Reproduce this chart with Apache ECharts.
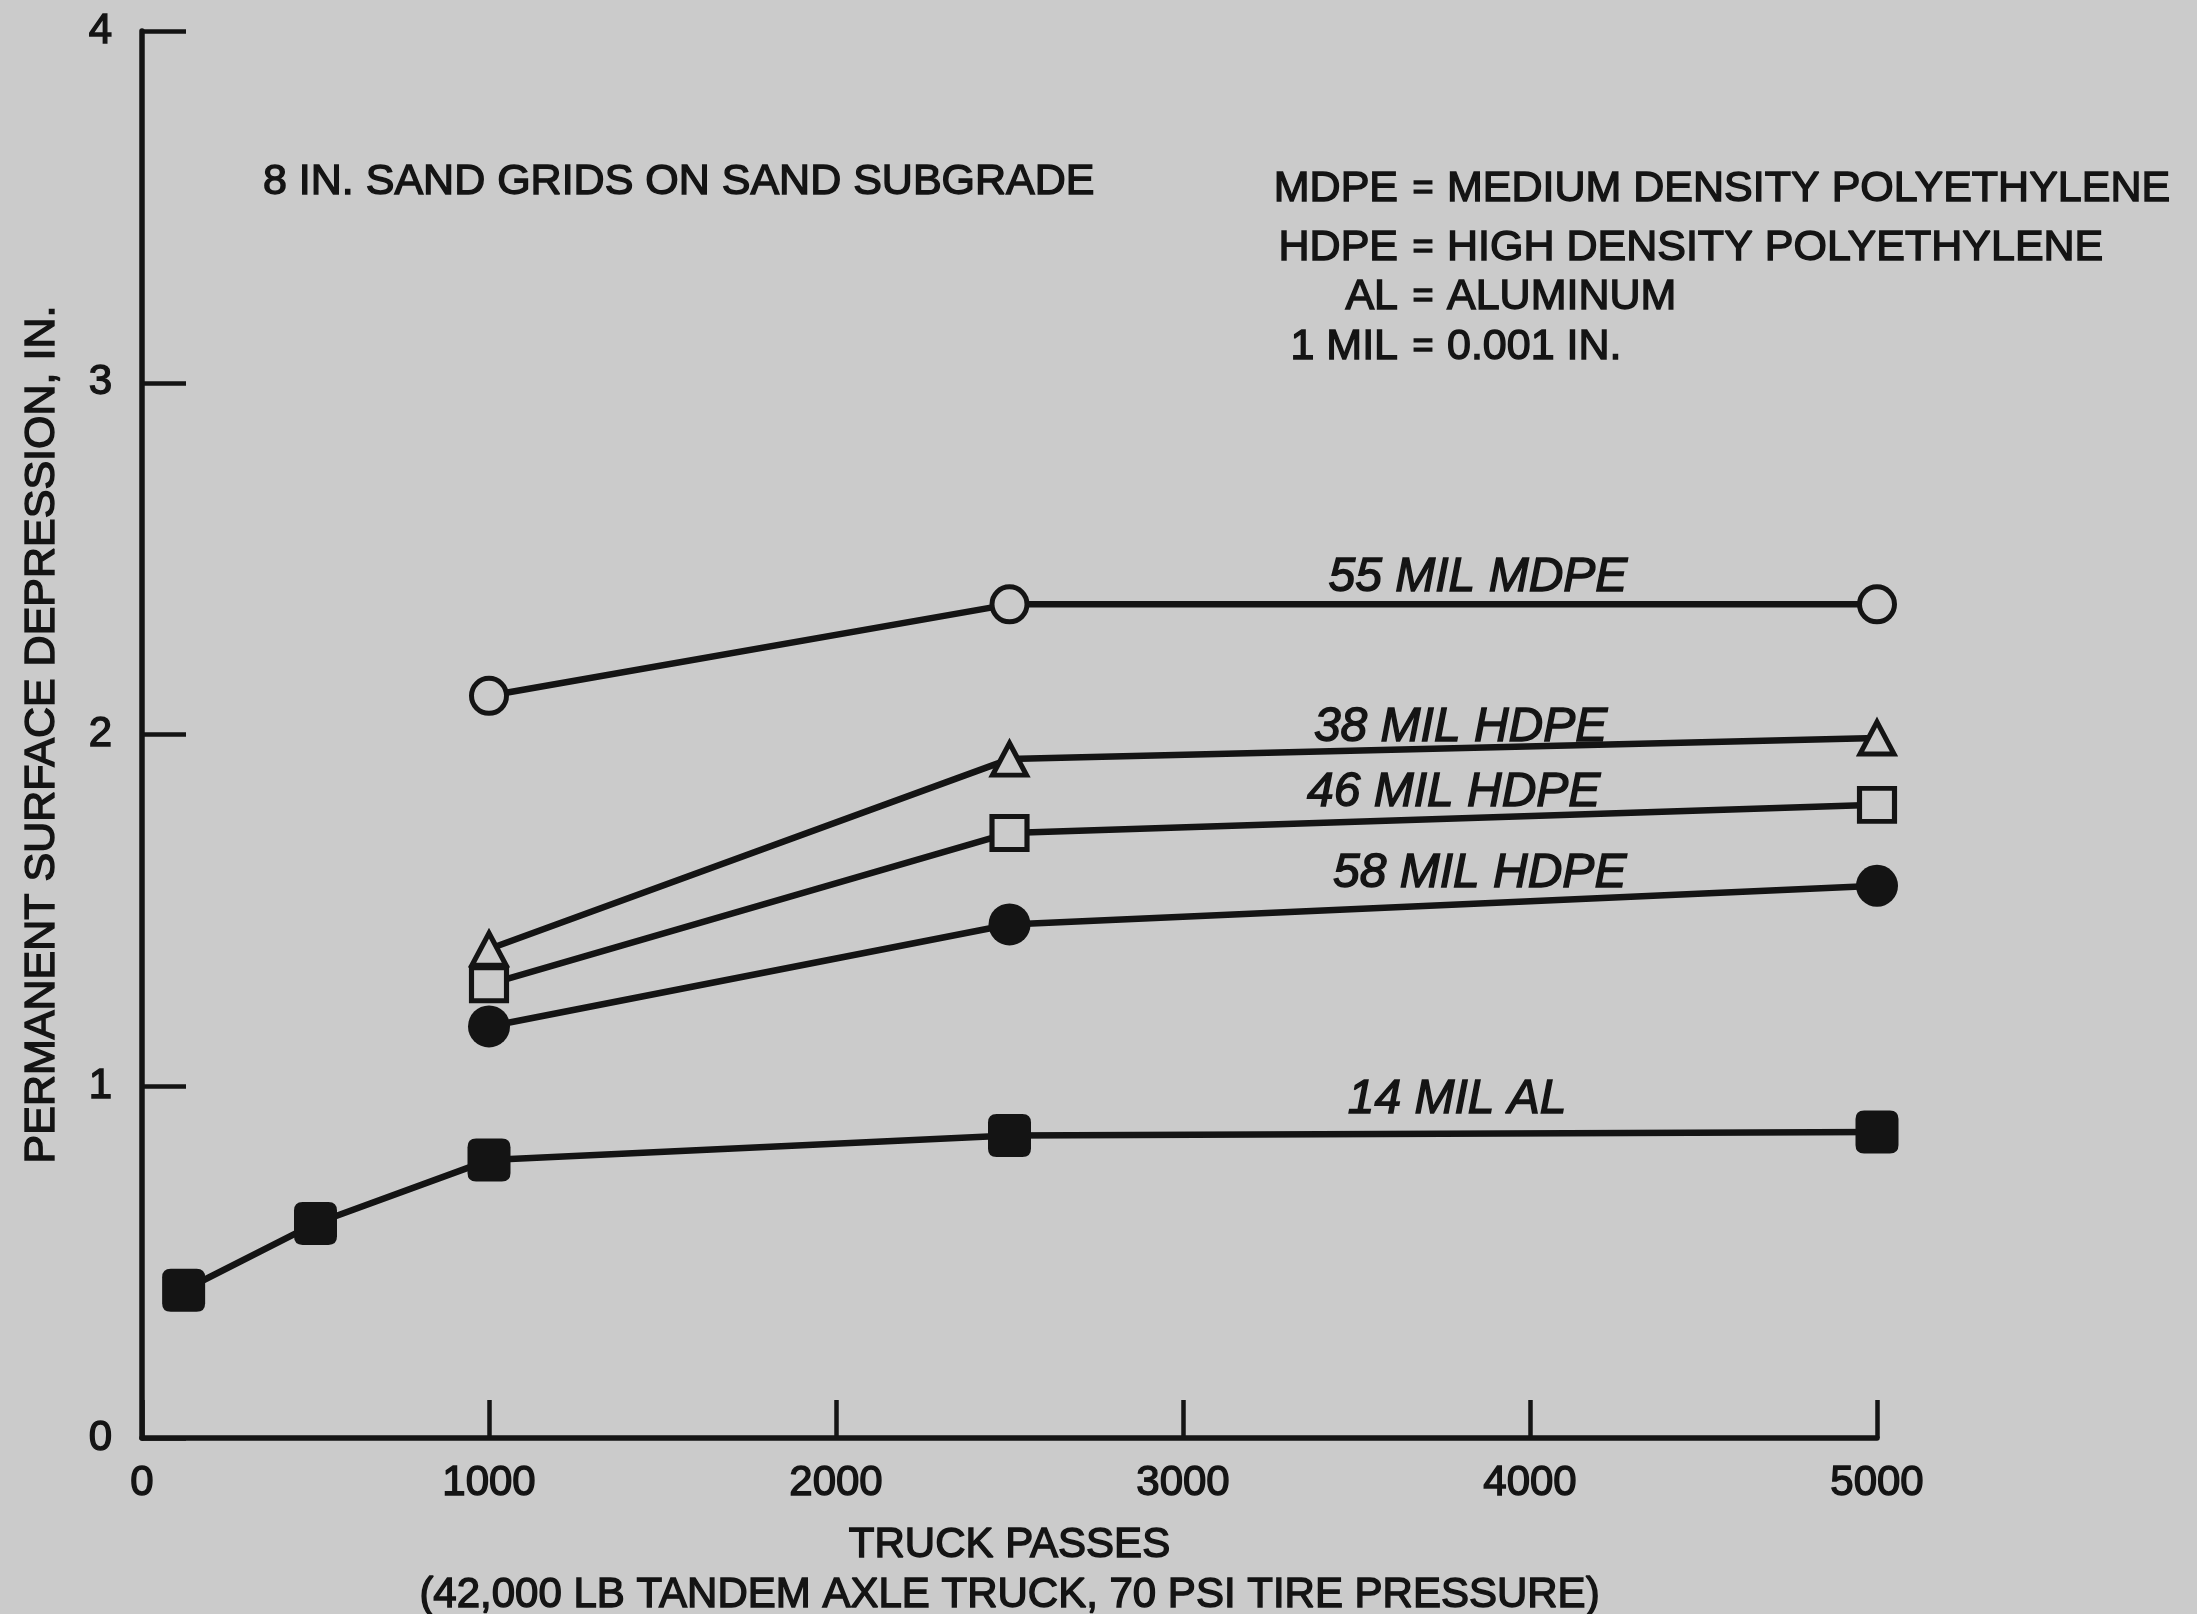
<!DOCTYPE html>
<html>
<head>
<meta charset="utf-8">
<title>Permanent surface depression vs truck passes</title>
<script src="https://cdn.jsdelivr.net/npm/echarts@6/dist/echarts.min.js"></script>
<style>
  html, body { margin: 0; padding: 0; background: #cbcbcb; }
  #chart { width: 2197px; height: 1614px; }
</style>
</head>
<body>
<div id="chart"></div>
<script>
// ---- data -------------------------------------------------------------
const seriesNames = ['55 MIL MDPE', '38 MIL HDPE', '46 MIL HDPE', '58 MIL HDPE', '14 MIL AL'];

// truck passes at which the polyethylene grids were measured
const polyPasses = [1000, 2500, 5000];
const mdpe55 = [2.11, 2.37, 2.37];
const hdpe38 = [1.39, 1.93, 1.99];
const hdpe46 = [1.29, 1.72, 1.80];
const hdpe58 = [1.17, 1.46, 1.57];

// aluminium grid was measured from the first passes
const alPasses = [120, 500, 1000, 2500, 5000];
const al14 = [0.42, 0.61, 0.79, 0.86, 0.87];

const xTickValues = [0, 1000, 2000, 3000, 4000, 5000];
const yTickValues = [0, 1, 2, 3, 4];

const subtitle = '8 IN. SAND GRIDS ON SAND SUBGRADE';
const abbrevTerms = ['MDPE', 'HDPE', 'AL', '1 MIL'];
const abbrevMeanings = ['MEDIUM DENSITY POLYETHYLENE', 'HIGH DENSITY POLYETHYLENE', 'ALUMINUM', '0.001 IN.'];
const xTitleLines = ['TRUCK PASSES', '(42,000 LB TANDEM AXLE TRUCK, 70 PSI TIRE PRESSURE)'];
const yTitle = 'PERMANENT SURFACE DEPRESSION, IN.';

// ---- styling ----------------------------------------------------------
const INK = '#141414';
const PAPER = '#cbcbcb';
const FONT = "'Liberation Sans', Arial, Helvetica, sans-serif";
// a thin outline in the ink colour gives the printed lettering its weight
const INK_EDGE = 1.4;
const inked = { textBorderColor: INK, textBorderWidth: INK_EDGE };

const pairs = (xs, ys) => xs.map((x, i) => [x, ys[i]]);

// y of a polyline at a given x, used to seat each curve's caption on its line
function yOnLine(xs, ys, x) {
  for (let i = 0; i < xs.length - 1; i++) {
    if (x >= xs[i] && x <= xs[i + 1]) {
      const t = (x - xs[i]) / (xs[i + 1] - xs[i]);
      return ys[i] + t * (ys[i + 1] - ys[i]);
    }
  }
  return ys[ys.length - 1];
}

function curve(name, xs, ys, marker, captionX, captionLift) {
  return {
    name: name,
    type: 'line',
    data: pairs(xs, ys),
    showSymbol: true,
    symbol: marker.symbol,
    symbolSize: marker.size,
    itemStyle: marker.style,
    lineStyle: { color: INK, width: 6.5 },
    emphasis: { disabled: true },
    markPoint: {
      symbol: 'circle',
      symbolSize: 0,
      silent: true,
      data: [{
        coord: [captionX, yOnLine(xs, ys, captionX)],
        label: Object.assign({
          show: true,
          position: 'inside',
          offset: [0, -captionLift],
          formatter: name,
          color: INK,
          fontFamily: FONT,
          fontStyle: 'italic',
          fontSize: 48
        }, inked)
      }]
    }
  };
}

const openStyle = { color: PAPER, borderColor: INK, borderWidth: 5 };
const solidStyle = { color: INK, borderWidth: 0 };
const softSquare = 'path://M2,0 H8 Q10,0 10,2 V8 Q10,10 8,10 H2 Q0,10 0,8 V2 Q0,0 2,0 Z';

const chart = echarts.init(document.getElementById('chart'), null, { renderer: 'canvas' });

function textEl(x, y, text, size, align) {
  return {
    type: 'text', x: x, y: y,
    style: {
      text: text, fill: INK, fontSize: size, fontFamily: FONT,
      align: align, verticalAlign: 'middle',
      stroke: INK, lineWidth: INK_EDGE
    }
  };
}

const graphics = [textEl(263, 182, subtitle, 43, 'left')];
const abbrevRowsY = [189, 248, 297, 347];
abbrevTerms.forEach((term, i) => {
  graphics.push(textEl(1398, abbrevRowsY[i], term, 43, 'right'));
  graphics.push(textEl(1423, abbrevRowsY[i], '=', 36, 'center'));
  graphics.push(textEl(1447, abbrevRowsY[i], abbrevMeanings[i], 43, 'left'));
});

const option = {
  animation: false,
  backgroundColor: PAPER,
  textStyle: { fontFamily: FONT, color: INK },
  grid: { left: 142, right: 320, top: 31, bottom: 176, containLabel: false, outerBoundsMode: 'none' },
  xAxis: {
    type: 'value',
    min: xTickValues[0],
    max: xTickValues[xTickValues.length - 1],
    interval: xTickValues[1] - xTickValues[0],
    axisLine: { show: true, onZero: true, lineStyle: { color: INK, width: 5.5 } },
    axisTick: { show: true, inside: true, length: 38, lineStyle: { color: INK, width: 4.5 } },
    splitLine: { show: false },
    axisLabel: Object.assign({
      show: true, margin: 24, color: INK, fontSize: 42, fontFamily: FONT,
      showMinLabel: true, showMaxLabel: true,
      formatter: v => String(v)
    }, inked),
    name: xTitleLines.join('\n'),
    nameLocation: 'middle',
    nameGap: 82,
    nameTextStyle: Object.assign({ color: INK, fontSize: 42, fontFamily: FONT, lineHeight: 50 }, inked)
  },
  yAxis: {
    type: 'value',
    min: yTickValues[0],
    max: yTickValues[yTickValues.length - 1],
    interval: yTickValues[1] - yTickValues[0],
    axisLine: { show: true, lineStyle: { color: INK, width: 5.5 } },
    axisTick: { show: true, inside: true, length: 44, lineStyle: { color: INK, width: 4.5 } },
    splitLine: { show: false },
    axisLabel: Object.assign({
      show: true, margin: 30, color: INK, fontSize: 42, fontFamily: FONT,
      showMinLabel: true, showMaxLabel: true,
      formatter: v => String(v)
    }, inked),
    name: yTitle,
    nameLocation: 'middle',
    nameGap: 78,
    nameRotate: 90,
    nameTextStyle: Object.assign({ color: INK, fontSize: 43, fontFamily: FONT }, inked)
  },
  series: [
    curve(seriesNames[0], polyPasses, mdpe55, { symbol: 'circle', size: 35, style: openStyle }, 3850, 27),
    curve(seriesNames[1], polyPasses, hdpe38, { symbol: 'triangle', size: [34, 32], style: openStyle }, 3800, 21),
    curve(seriesNames[2], polyPasses, hdpe46, { symbol: 'rect', size: [35, 33], style: openStyle }, 3780, 26),
    curve(seriesNames[3], polyPasses, hdpe58, { symbol: 'circle', size: 42, style: solidStyle }, 3855, 30),
    curve(seriesNames[4], alPasses, al14, { symbol: softSquare, size: 43, style: solidStyle }, 3790, 34)
  ],
  graphic: graphics
};

chart.setOption(option);
</script>
</body>
</html>
